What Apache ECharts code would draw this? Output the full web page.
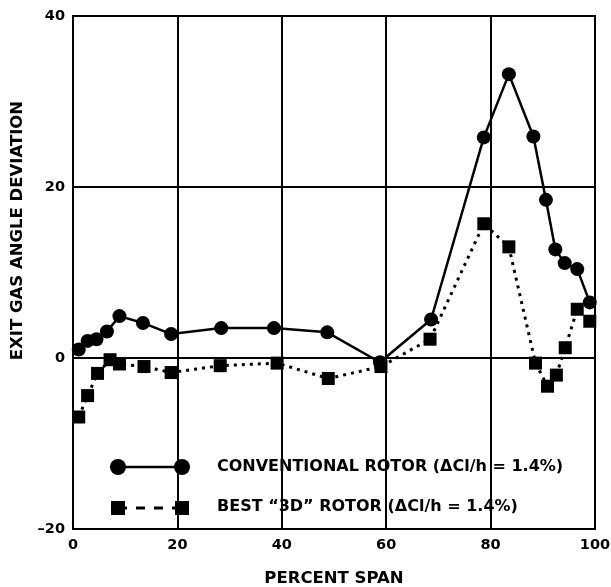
<!DOCTYPE html>
<html>
<head>
<meta charset="utf-8">
<script src="https://cdn.jsdelivr.net/npm/echarts@6/dist/echarts.min.js"></script>
<style>
  html, body { margin: 0; padding: 0; background: #fff; }
  #chart { width: 611px; height: 587px; }
</style>
</head>
<body>
<div id="chart"></div>
<script>
// percent span positions and exit gas angle deviation
const spanConventional = [1.1, 2.8, 4.5, 6.5, 8.9, 13.4, 18.8, 28.4, 38.5, 48.7, 58.8, 68.6, 78.7, 83.5, 88.2, 90.6, 92.4, 94.2, 96.6, 99.0];
const devConventional = [1.0, 2.0, 2.2, 3.1, 4.9, 4.1, 2.8, 3.5, 3.5, 3.0, -0.5, 4.5, 25.8, 33.2, 25.9, 18.5, 12.7, 11.1, 10.4, 6.5];

const span3D = [1.1, 2.8, 4.7, 7.1, 8.9, 13.6, 18.8, 28.2, 39.1, 48.9, 59.0, 68.4, 78.7, 83.5, 88.6, 90.9, 92.6, 94.3, 96.6, 99.0];
const dev3D = [-6.9, -4.4, -1.8, -0.2, -0.7, -1.0, -1.7, -0.9, -0.6, -2.4, -1.0, 2.2, 15.7, 13.0, -0.6, -3.3, -2.0, 1.2, 5.7, 4.3];

const seriesNames = ['CONVENTIONAL ROTOR (\u0394Cl/h = 1.4%)', 'BEST \u201c3D\u201d ROTOR (\u0394Cl/h = 1.4%)'];

const font = '"DejaVu Sans", "Liberation Sans", sans-serif';

const chart = echarts.init(document.getElementById('chart'));

const pair = (xs, ys) => xs.map((x, i) => [x, ys[i]]);

chart.setOption({
  animation: false,
  grid: {
    left: 73, right: 16, top: 16, bottom: 58,
    outerBoundsMode: 'none',
    show: true, borderColor: '#000', borderWidth: 2
  },
  xAxis: {
    type: 'value', min: 0, max: 100, interval: 20,
    name: 'PERCENT SPAN', nameLocation: 'middle', nameGap: 41,
    nameTextStyle: { color: '#000', fontFamily: font, fontWeight: 'bold', fontSize: 16.5 },
    axisLine: { show: true, lineStyle: { color: '#000', width: 2 } },
    axisTick: { show: false },
    axisLabel: { color: '#000', fontFamily: font, fontWeight: 'bold', fontSize: 14.5, margin: 9 },
    splitLine: { show: true, lineStyle: { color: '#000', width: 2 } }
  },
  yAxis: {
    type: 'value', min: -20, max: 40, interval: 20,
    name: 'EXIT GAS ANGLE DEVIATION', nameLocation: 'middle', nameGap: 46,
    nameTextStyle: { color: '#000', fontFamily: font, fontWeight: 'bold', fontSize: 16.5, padding: [0, 0, 0, 84] },
    axisLine: { show: true, lineStyle: { color: '#000', width: 2 } },
    axisTick: { show: false },
    axisLabel: {
      color: '#000', fontFamily: font, fontWeight: 'bold', fontSize: 14.5, margin: 8,
      formatter: v => v < 0 ? '\u2013' + Math.abs(v) : String(v)
    },
    splitLine: { show: true, lineStyle: { color: '#000', width: 2 } }
  },
  series: [
    {
      name: seriesNames[0], type: 'line', data: pair(spanConventional, devConventional),
      symbol: 'circle', symbolSize: 14,
      lineStyle: { color: '#000', width: 2.5 },
      itemStyle: { color: '#000' }
    },
    {
      name: seriesNames[1], type: 'line', data: pair(span3D, dev3D),
      symbol: 'rect', symbolSize: 13,
      lineStyle: { color: '#000', width: 3, type: [3, 5] },
      itemStyle: { color: '#000' }
    }
  ],
  graphic: [
    // legend drawn as in the figure: a symbol at both ends of the line
    { type: 'line', shape: { x1: 118, y1: 467, x2: 182, y2: 467 }, style: { stroke: '#000', lineWidth: 2.5 } },
    { type: 'circle', shape: { cx: 118, cy: 467, r: 8 }, style: { fill: '#000' } },
    { type: 'circle', shape: { cx: 182, cy: 467, r: 8 }, style: { fill: '#000' } },
    { type: 'line', shape: { x1: 118, y1: 508, x2: 182, y2: 508 }, style: { stroke: '#000', lineWidth: 3, lineDash: [9, 9] } },
    { type: 'rect', shape: { x: 111, y: 501, width: 14, height: 14 }, style: { fill: '#000' } },
    { type: 'rect', shape: { x: 175, y: 501, width: 14, height: 14 }, style: { fill: '#000' } },
    { type: 'text', x: 217, y: 467, style: { text: seriesNames[0], fill: '#000', font: 'bold 16px ' + font, verticalAlign: 'middle' } },
    { type: 'text', x: 217, y: 507, style: { text: seriesNames[1], fill: '#000', font: 'bold 16px ' + font, verticalAlign: 'middle' } }
  ]
});
</script>
</body>
</html>
